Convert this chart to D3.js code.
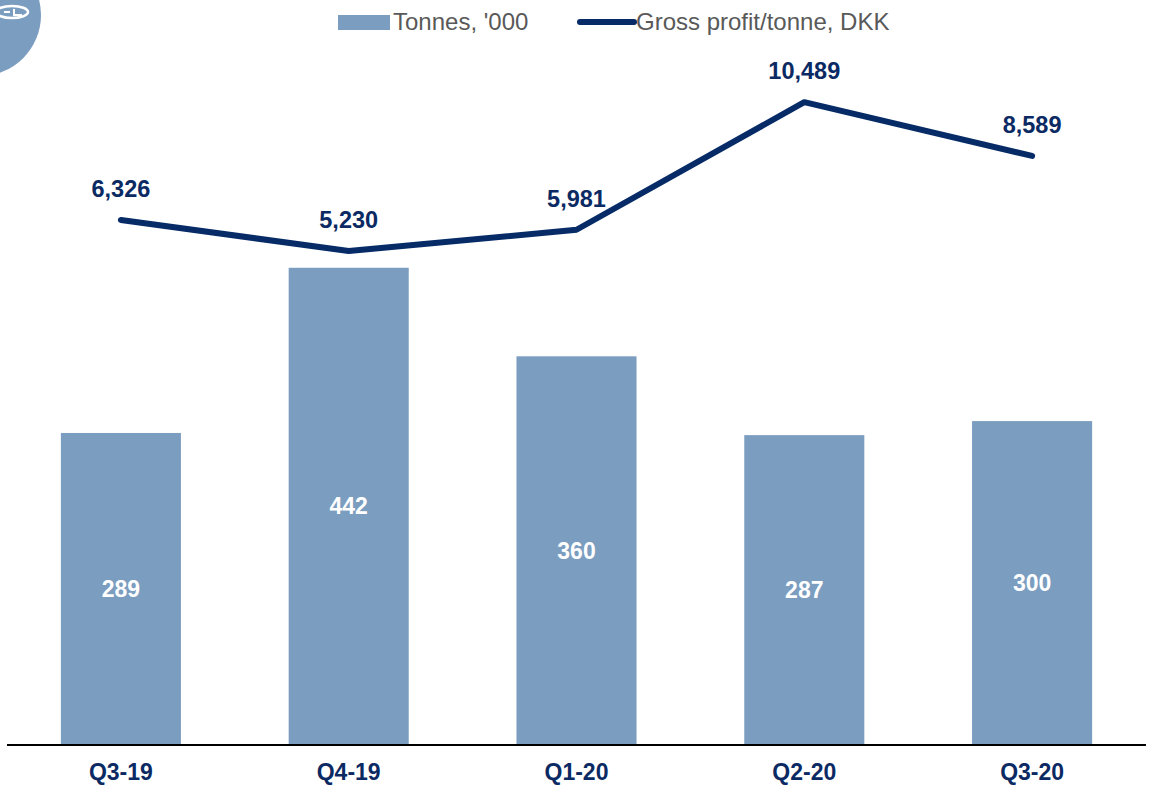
<!DOCTYPE html>
<html><head><meta charset="utf-8">
<script src="https://cdn.jsdelivr.net/npm/d3@7/dist/d3.min.js"></script>
<style>body{margin:0;background:#fff;}svg{display:block;font-family:"Liberation Sans",Arial,sans-serif;}</style>
</head><body>
<svg id="c" width="1153" height="786"></svg>
<script>
const categories = ["Q3-19","Q4-19","Q1-20","Q2-20","Q3-20"];
const tonnes = [289, 442, 360, 287, 300];
const grossProfit = [6326, 5230, 5981, 10489, 8589];
const legendLabels = ["Tonnes, '000", "Gross profit/tonne, DKK"];

const barColor = "#7b9dc0", lineColor = "#062b66", textNavy = "#0b2a63";
const svg = d3.select("#c");

// logo circle
svg.append("circle").attr("cx", -20).attr("cy", 15).attr("r", 61).attr("fill", barColor);
svg.append("ellipse").attr("cx", 12).attr("cy", 12).attr("rx", 16).attr("ry", 6)
  .attr("fill", "none").attr("stroke", "#fff").attr("stroke-width", 2.5);
svg.append("path").attr("d", "M4,12 L10,12 M14,9 L14,15 L22,15").attr("stroke", "#fff").attr("stroke-width", 2).attr("fill","none");

const x = d3.scaleBand().domain(categories).range([7, 1146]).paddingInner(0.473).paddingOuter(0.2365);
const yBar = d3.scaleLinear().domain([0, 690]).range([745, 0]);
const yLine = d3.scaleLinear().domain([0, 14100]).range([399, 0]);

// bars
svg.selectAll("rect.bar").data(tonnes).enter().append("rect")
  .attr("x", (d,i) => x(categories[i])).attr("width", x.bandwidth())
  .attr("y", d => yBar(d)).attr("height", d => yBar(0) - yBar(d)).attr("fill", barColor);
svg.selectAll("text.bl").data(tonnes).enter().append("text")
  .attr("x", (d,i) => x(categories[i]) + x.bandwidth()/2)
  .attr("y", d => (yBar(d) + yBar(0))/2).attr("dy", "0.35em")
  .attr("text-anchor", "middle").attr("fill", "#fff").attr("font-weight", "bold").attr("font-size", 23)
  .text(d => d);

// axis
const xAxis = svg.append("g").attr("transform", "translate(0,745)").call(d3.axisBottom(x).tickSize(0).tickPadding(19));
xAxis.select(".domain").attr("stroke", "#000").attr("stroke-width", 2).attr("d", "M7,0H1146");
xAxis.selectAll("text").attr("font-size", 23).attr("font-weight", "bold").attr("fill", textNavy)
  .attr("font-family", "Liberation Sans, Arial, sans-serif");

// line
const line = d3.line().x((d,i) => x(categories[i]) + x.bandwidth()/2).y(d => yLine(d));
svg.append("path").datum(grossProfit).attr("d", line).attr("fill", "none")
  .attr("stroke", lineColor).attr("stroke-width", 6).attr("stroke-linecap", "round").attr("stroke-linejoin", "round");
svg.selectAll("text.ll").data(grossProfit).enter().append("text")
  .attr("x", (d,i) => x(categories[i]) + x.bandwidth()/2)
  .attr("y", d => yLine(d) - 31).attr("dy", "0.35em")
  .attr("text-anchor", "middle").attr("fill", textNavy).attr("font-weight", "bold").attr("font-size", 23.5)
  .text(d => d3.format(",")(d));

// legend
svg.append("rect").attr("x", 338).attr("y", 15).attr("width", 52).attr("height", 15).attr("fill", barColor);
svg.append("text").attr("x", 393).attr("y", 22).attr("dy", "0.35em").attr("font-size", 24).attr("fill", "#595959").text(legendLabels[0]);
svg.append("line").attr("x1", 580).attr("x2", 634).attr("y1", 22).attr("y2", 22)
  .attr("stroke", lineColor).attr("stroke-width", 6).attr("stroke-linecap", "round");
svg.append("text").attr("x", 636).attr("y", 22).attr("dy", "0.35em").attr("font-size", 24).attr("fill", "#595959").text(legendLabels[1]);
</script>
</body></html>
